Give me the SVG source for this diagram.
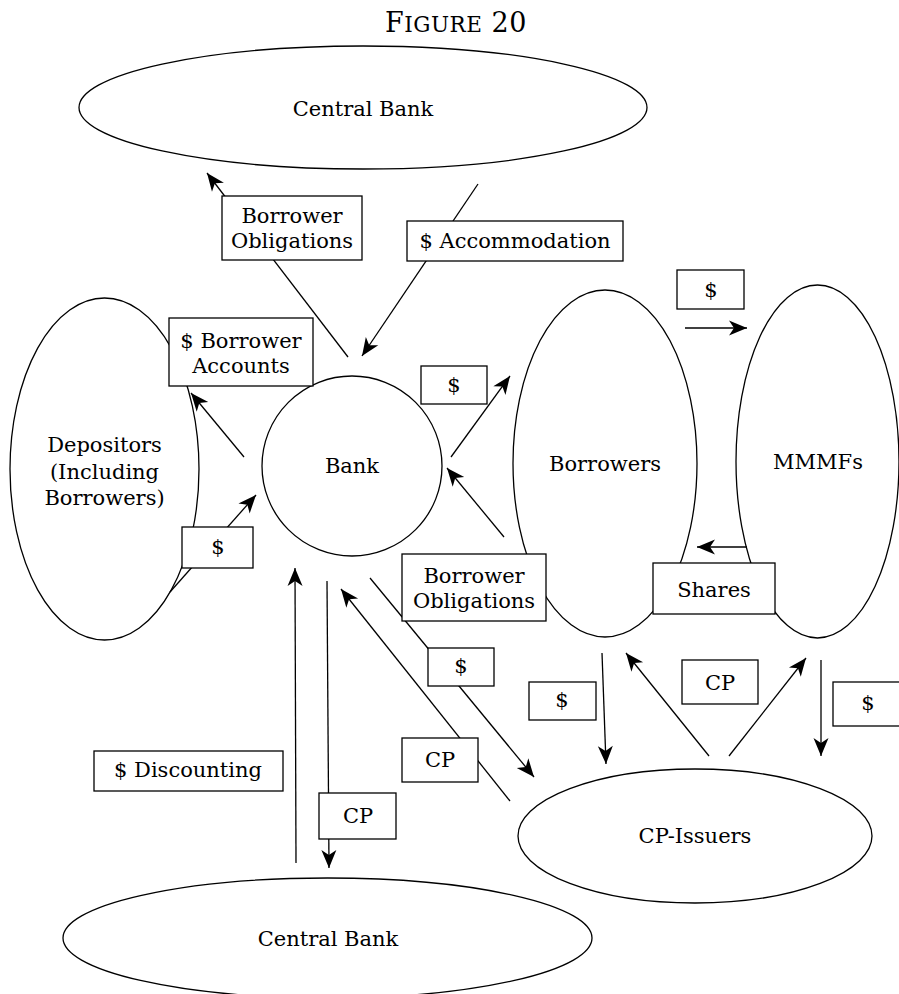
<svg xmlns="http://www.w3.org/2000/svg" width="899" height="994" viewBox="0 0 899 994">
<style>
.node{fill:#fff;stroke:#000;stroke-width:1.3}
.lbl{fill:#fff;stroke:#000;stroke-width:1.3}
.edge{fill:none;stroke:#000;stroke-width:1.3;marker-end:url(#ah)}
text{font-family:"DejaVu Serif","Liberation Serif",serif;font-size:21px;fill:#000;text-anchor:middle}
</style>
<defs>
<marker id="ah" viewBox="-19 -8 20 16" refX="0" refY="0" markerWidth="20" markerHeight="16" markerUnits="userSpaceOnUse" orient="auto">
<path d="M0,0 L-18,-7.5 L-13,0 L-18,7.5 Z" fill="#000"/>
</marker>
</defs>
<rect width="899" height="994" fill="#fff"/>
<text x="456" y="32" style="font-size:27px;letter-spacing:0.5px">F<tspan style="font-size:21.5px">IGURE</tspan> 20</text>

<g id="central-bank-top"><ellipse class="node" cx="363" cy="107.5" rx="284" ry="61.5"/><text x="363" y="116">Central Bank</text></g>
<g id="depositors"><ellipse class="node" cx="104.5" cy="469" rx="94.5" ry="171"/><text x="104.5" y="452">Depositors</text><text x="104.5" y="479">(Including</text><text x="104.5" y="505">Borrowers)</text></g>
<g id="bank"><circle class="node" cx="352" cy="466" r="90"/><text x="352" y="473">Bank</text></g>
<g id="borrowers"><ellipse class="node" cx="605" cy="463.5" rx="92" ry="173.5"/><text x="605" y="471">Borrowers</text></g>
<g id="mmmfs"><ellipse class="node" cx="817.5" cy="461.5" rx="81.5" ry="176.5"/><text x="818" y="469">MMMFs</text></g>
<g id="cp-issuers"><ellipse class="node" cx="695" cy="836" rx="177" ry="67"/><text x="695" y="843">CP-Issuers</text></g>
<g id="central-bank-bottom"><ellipse class="node" cx="327.5" cy="938" rx="264.5" ry="60"/><text x="328" y="946">Central Bank</text></g>

<g id="connectors">
<line class="edge" x1="348" y1="357" x2="207" y2="173"/>
<line class="edge" x1="478" y1="184" x2="362" y2="356"/>
<line class="edge" x1="244" y1="457" x2="191" y2="393"/>
<line class="edge" x1="170" y1="592" x2="256" y2="495"/>
<line class="edge" x1="451" y1="457" x2="510" y2="376"/>
<line class="edge" x1="504" y1="537" x2="447" y2="468"/>
<line class="edge" x1="685" y1="328" x2="747" y2="328"/>
<line class="edge" x1="747" y1="547" x2="697" y2="547"/>
<line class="edge" x1="296" y1="863" x2="295" y2="568"/>
<line class="edge" x1="327" y1="581" x2="329" y2="868"/>
<line class="edge" x1="510" y1="801" x2="341" y2="589"/>
<line class="edge" x1="370" y1="578" x2="534" y2="777"/>
<line class="edge" x1="602" y1="653" x2="606" y2="764"/>
<line class="edge" x1="709" y1="756" x2="626" y2="653"/>
<line class="edge" x1="729" y1="756" x2="806" y2="658"/>
<line class="edge" x1="821" y1="660" x2="821" y2="756"/>
</g>

<g id="edge-labels">
<g id="lbl-borrower-obligations-top"><rect class="lbl" x="222" y="196" width="140" height="64"/><text x="292" y="223">Borrower</text><text x="292" y="248">Obligations</text></g>
<g id="lbl-accommodation"><rect class="lbl" x="407" y="221" width="216" height="40"/><text x="515" y="248">$ Accommodation</text></g>
<g id="lbl-borrower-accounts"><rect class="lbl" x="169" y="318" width="144" height="68"/><text x="241" y="348">$ Borrower</text><text x="241" y="373">Accounts</text></g>
<g id="lbl-dollar-bank-borrowers"><rect class="lbl" x="421" y="366" width="66" height="38"/><text x="454" y="392">$</text></g>
<g id="lbl-dollar-mmmfs"><rect class="lbl" x="677" y="270" width="67" height="39"/><text x="711" y="297">$</text></g>
<g id="lbl-dollar-depositors"><rect class="lbl" x="182" y="527" width="71" height="41"/><text x="218" y="554">$</text></g>
<g id="lbl-borrower-obligations-right"><rect class="lbl" x="402" y="554" width="144" height="67"/><text x="474" y="583">Borrower</text><text x="474" y="608">Obligations</text></g>
<g id="lbl-shares"><rect class="lbl" x="653" y="563" width="122" height="51"/><text x="714" y="597">Shares</text></g>
<g id="lbl-dollar-bank-cp"><rect class="lbl" x="428" y="648" width="66" height="38"/><text x="461" y="673">$</text></g>
<g id="lbl-dollar-borrowers-cp"><rect class="lbl" x="529" y="682" width="67" height="38"/><text x="562" y="707">$</text></g>
<g id="lbl-cp-right"><rect class="lbl" x="682" y="660" width="76" height="44"/><text x="720" y="690">CP</text></g>
<g id="lbl-dollar-mmmfs-cp"><rect class="lbl" x="833" y="682" width="67" height="44"/><text x="868" y="710">$</text></g>
<g id="lbl-cp-bank"><rect class="lbl" x="402" y="738" width="76" height="44"/><text x="440" y="767">CP</text></g>
<g id="lbl-discounting"><rect class="lbl" x="94" y="751" width="189" height="40"/><text x="188" y="777">$ Discounting</text></g>
<g id="lbl-cp-central"><rect class="lbl" x="319" y="793" width="77" height="46"/><text x="358" y="823">CP</text></g>
</g>
</svg>
